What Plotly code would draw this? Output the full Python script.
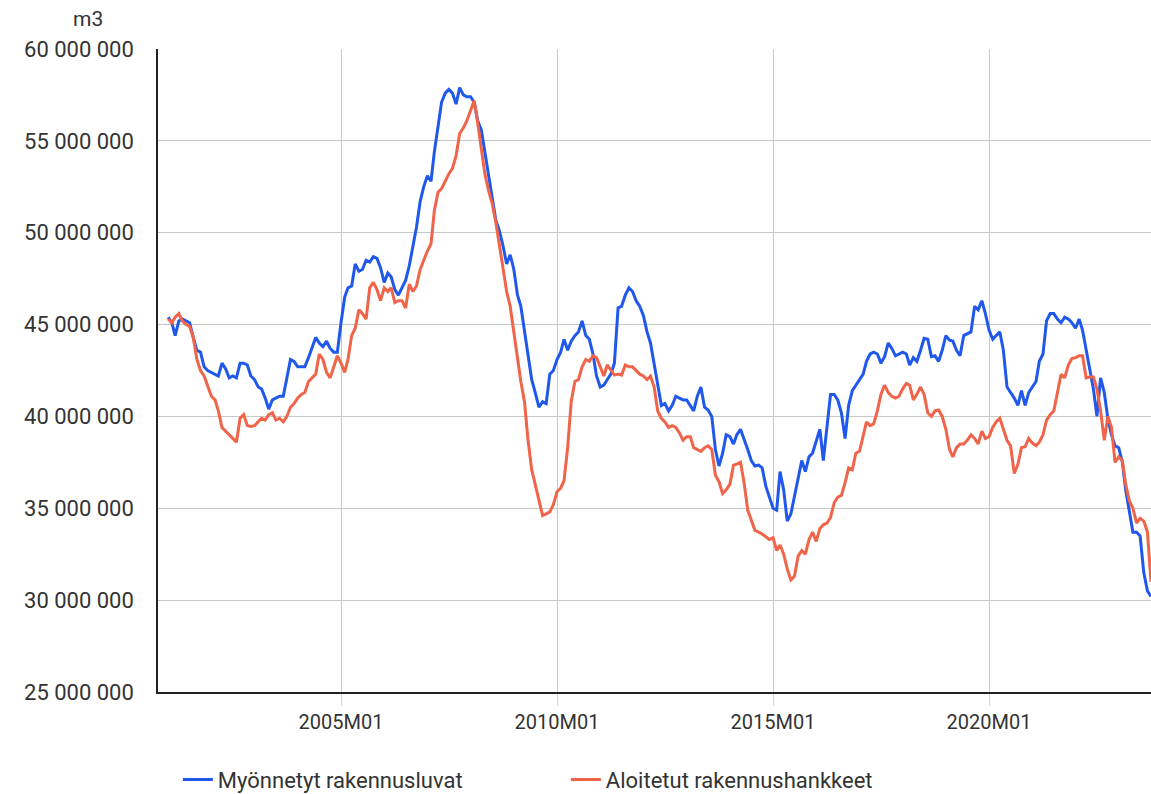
import pandas as pd
import plotly.graph_objects as go

# Monthly volumes, million m3, 2001M01 ... 2023M10 (one row per year)
start_month = "2001-01-01"

myonnetyt = [
    45.4, 45.1, 44.4, 45.2, 45.3, 45.2, 45.1, 44.3, 43.6, 43.5, 42.7, 42.5,
    42.4, 42.3, 42.2, 42.9, 42.6, 42.1, 42.2, 42.1, 42.9, 42.9, 42.8, 42.2,
    42.0, 41.6, 41.5, 41.0, 40.4, 40.9, 41.0, 41.1, 41.1, 42.0, 43.1, 43.0,
    42.7, 42.7, 42.7, 43.2, 43.8, 44.3, 44.0, 43.8, 44.1, 43.7, 43.5, 43.5,
    45.1, 46.5, 47.0, 47.1, 48.3, 47.9, 48.0, 48.5, 48.4, 48.7, 48.6, 48.1,
    47.3, 47.8, 47.6, 46.9, 46.6, 47.0, 47.4, 48.2, 49.3, 50.3, 51.7, 52.5,
    53.1, 52.8, 54.4, 55.9, 57.1, 57.6, 57.8, 57.6, 57.0, 57.9, 57.5, 57.4,
    57.4, 57.1, 56.1, 55.6, 54.4, 53.0, 51.8, 50.7, 50.1, 49.3, 48.3, 48.8,
    48.0, 46.6, 46.0, 44.6, 43.5, 42.0, 41.3, 40.5, 40.8, 40.7, 42.3, 42.5,
    43.1, 43.5, 44.2, 43.6, 44.1, 44.4, 44.6, 45.2, 44.4, 44.2, 43.4, 42.2,
    41.6, 41.7, 42.0, 42.3, 42.9, 45.9, 46.0, 46.6, 47.0, 46.8, 46.3, 46.0,
    45.5, 44.6, 44.0, 42.9, 41.8, 40.6, 40.7, 40.3, 40.6, 41.1, 41.0, 40.9,
    40.9, 40.6, 40.3, 41.1, 41.6, 40.5, 40.35, 40.0, 38.2, 37.3, 38.0, 39.0,
    38.9, 38.5, 39.0, 39.3, 38.8, 38.2, 37.6, 37.3, 37.35, 37.2, 36.2, 35.6,
    35.0, 34.9, 37.0, 36.0, 34.3, 34.7, 35.6, 36.5, 37.6, 37.0, 37.8, 38.0,
    38.6, 39.3, 37.6, 39.6, 41.2, 41.2, 40.9, 40.2, 38.8, 40.6, 41.4, 41.7,
    42.0, 42.3, 43.0, 43.4, 43.5, 43.4, 42.9, 43.25, 44.0, 43.7, 43.3, 43.4,
    43.5, 43.4, 42.8, 43.2, 43.0, 43.6, 44.25, 44.2, 43.25, 43.3, 43.0, 43.6,
    44.4, 44.15, 44.1, 43.6, 43.3, 44.4, 44.5, 44.6, 46.0, 45.8, 46.3, 45.6,
    44.7, 44.2, 44.4, 44.6, 43.6, 41.6, 41.3, 41.0, 40.6, 41.4, 40.6, 41.3,
    41.6, 41.9, 43.0, 43.4, 45.2, 45.6, 45.6, 45.3, 45.1, 45.4, 45.3, 45.1,
    44.8, 45.3, 44.7, 43.6, 42.7, 41.5, 40.0, 42.1, 41.3, 39.9, 39.0, 38.4,
    38.3, 37.5, 36.0, 34.8, 33.7, 33.7, 33.5, 31.5, 30.5, 30.2,
]

aloitetut = [
    45.3, 45.1, 45.4, 45.6, 45.2, 45.0, 44.9, 44.3, 43.1, 42.5, 42.2, 41.7,
    41.1, 40.9, 40.3, 39.4, 39.2, 38.95, 38.8, 38.6, 39.9, 40.1, 39.5, 39.45,
    39.5, 39.7, 39.9, 39.8, 40.1, 40.2, 39.8, 39.9, 39.7, 40.0, 40.5, 40.7,
    41.0, 41.2, 41.3, 41.9, 42.1, 42.3, 43.4, 43.1, 42.4, 42.1, 42.7, 43.3,
    42.9, 42.4, 43.1, 44.4, 44.8, 45.8, 45.6, 45.3, 47.0, 47.3, 46.9, 46.3,
    47.0, 46.8, 47.0, 46.2, 46.3, 46.3, 45.9, 47.2, 46.8, 47.1, 48.0, 48.5,
    49.0, 49.4, 51.2, 52.2, 52.4, 52.8, 53.2, 53.5, 54.2, 55.4, 55.7, 56.1,
    56.6, 57.2, 56.0, 54.6, 53.2, 52.3, 51.6, 50.6, 49.3, 48.2, 46.8, 46.0,
    44.5, 43.1, 41.9, 40.8, 38.7, 37.1, 36.3, 35.3, 34.6, 34.7, 34.8, 35.2,
    35.9, 36.1, 36.5, 38.3, 40.8, 41.9, 42.0, 42.7, 43.1, 43.0, 43.3, 43.2,
    42.7, 42.2, 42.8, 42.5, 42.25, 42.3, 42.25, 42.8, 42.7, 42.7, 42.5, 42.3,
    42.2, 42.0, 42.2, 41.6, 40.3, 39.9, 39.7, 39.4, 39.5, 39.4, 39.1, 38.7,
    38.9, 38.9, 38.3, 38.2, 38.1, 38.3, 38.4, 38.2, 36.8, 36.45, 35.8, 36.0,
    36.3, 37.35, 37.4, 37.5, 36.4, 34.9, 34.3, 33.8, 33.7, 33.6, 33.45, 33.3,
    33.4, 32.7, 33.0, 32.5, 31.7, 31.1, 31.3, 32.4, 32.7, 32.5, 33.3, 33.7,
    33.2, 33.9, 34.1, 34.2, 34.5, 35.3, 35.6, 35.7, 36.4, 37.2, 37.1, 38.0,
    38.1, 38.9, 39.7, 39.5, 39.6, 40.3, 41.2, 41.7, 41.3, 41.1, 41.0, 41.1,
    41.5, 41.8, 41.7, 40.9, 41.2, 41.6, 41.2, 40.2, 40.0, 40.3, 40.35, 40.0,
    39.3, 38.2, 37.8, 38.3, 38.5, 38.5, 38.7, 39.0, 38.8, 38.5, 39.2, 38.8,
    38.9, 39.4, 39.7, 39.9, 39.3, 38.7, 38.4, 36.9, 37.4, 38.3, 38.35, 38.8,
    38.55, 38.4, 38.6, 39.0, 39.8, 40.1, 40.3, 41.3, 42.3, 42.1, 42.8, 43.15,
    43.2, 43.3, 43.3, 42.1, 42.15, 42.15, 41.5, 40.3, 38.7, 40.0, 39.4, 37.5,
    37.8, 37.6, 36.3, 35.4, 35.0, 34.2, 34.45, 34.3, 33.7, 31.0,
]

tick_dates = ["2005-01-01", "2010-01-01", "2015-01-01", "2020-01-01"]
tick_labels = ["2005M01", "2010M01", "2015M01", "2020M01"]

months = pd.date_range(start_month, periods=len(myonnetyt), freq="MS")

FONT = "Roboto, 'Open Sans', sans-serif"
BLUE = "#1f58ea"
RED = "#f0644a"
GRID = "#c8c8c8"

fig = go.Figure()

fig.add_trace(go.Scatter(
    x=months,
    y=[v * 1_000_000 for v in myonnetyt],
    mode="lines",
    name="Myönnetyt rakennusluvat",
    line=dict(color=BLUE, width=3),
))

fig.add_trace(go.Scatter(
    x=months,
    y=[v * 1_000_000 for v in aloitetut],
    mode="lines",
    name="Aloitetut rakennushankkeet",
    line=dict(color=RED, width=3),
))

fig.update_layout(
    width=1151,
    height=794,
    margin=dict(l=158, r=0, t=49, b=102),
    paper_bgcolor="white",
    plot_bgcolor="white",
    separators=", ",
    font=dict(family=FONT, size=22, color="#333333"),
    showlegend=True,
    # container-referenced so it does not push the bottom margin
    legend=dict(
        orientation="h",
        x=0.02, xanchor="left",
        yref="container", y=0.018, yanchor="middle",
        font=dict(size=22, color="#333333"),
        entrywidth=343, entrywidthmode="pixels",
        itemwidth=30,
    ),
    xaxis=dict(
        type="date",
        range=["2000-10-07", "2023-10-01"],
        tickvals=tick_dates,
        ticktext=tick_labels,
        showgrid=True, gridcolor=GRID, gridwidth=1.3,
        showline=True, linecolor="#222222", linewidth=1.5,
        ticks="outside", ticklen=12, tickcolor="#cfd8e6", tickwidth=1,
        ticklabelstandoff=-1,
        tickfont=dict(size=20, color="#333333"),
        zeroline=False, automargin=False,
    ),
    yaxis=dict(
        range=[25_000_000, 60_000_000],
        dtick=5_000_000,
        tickformat=",d",
        showgrid=True, gridcolor=GRID, gridwidth=1.3,
        showline=True, linecolor="#222222", linewidth=1.5,
        ticks="", ticklabelstandoff=18,
        tickfont=dict(size=22, color="#333333"),
        zeroline=False, automargin=False,
    ),
    annotations=[dict(
        text="m3", xref="paper", yref="paper",
        x=-0.0705, y=1.046, xanchor="center", yanchor="middle",
        showarrow=False, font=dict(size=21, color="#333333"),
    )],
)

# drop the default page margin so the figure sits at the window's top-left
fig.write_html(
    "out.html",
    config={"displayModeBar": False},
    post_script="document.body.style.margin='0';document.body.style.overflow='hidden';",
)
